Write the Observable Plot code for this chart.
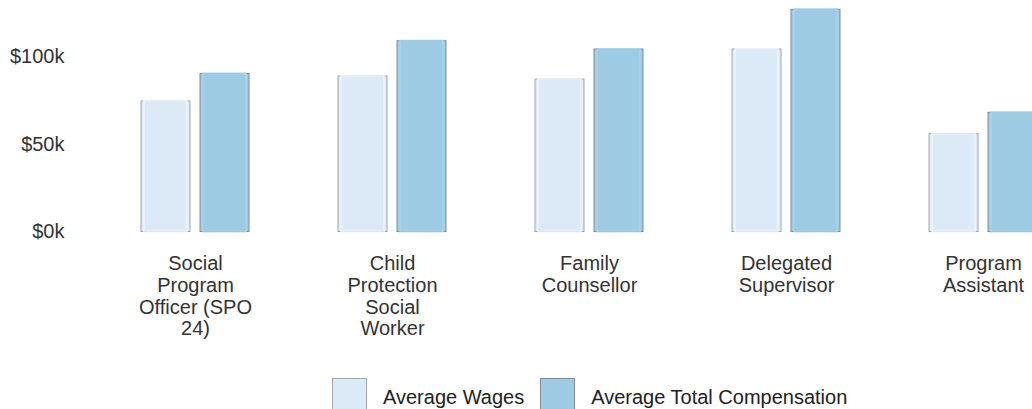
<!DOCTYPE html>
<html>
<head>
<meta charset="utf-8">
<script src="https://cdn.jsdelivr.net/npm/d3@7"></script>
<script src="https://cdn.jsdelivr.net/npm/@observablehq/plot@0.6"></script>
<style>
  html, body { margin: 0; padding: 0; background: #fff; overflow: hidden; }
  body { width: 1032px; height: 409px; font-family: "Liberation Sans", Arial, sans-serif; color: #333; }
  #legend { position: absolute; left: 332px; top: 378px; display: flex; align-items: center; font-size: 20px; color: #222; white-space: nowrap; }
  .sw { width: 35px; height: 36px; box-sizing: border-box; margin-right: 16px; }
  .lab { margin-right: 16px; padding-top: 2px; }
</style>
</head>
<body>
<div id="chart"></div>
<div id="legend"></div>
<script>
const categories = [
  "Social Program Officer (SPO 24)",
  "Child Protection Social Worker",
  "Family Counsellor",
  "Delegated Supervisor",
  "Program Assistant"
];
const categoryLabels = [
  "Social\nProgram\nOfficer (SPO\n24)",
  "Child\nProtection\nSocial\nWorker",
  "Family\nCounsellor",
  "Delegated\nSupervisor",
  "Program\nAssistant"
];
const seriesNames = ["Average Wages", "Average Total Compensation"];
const averageWages = [74600, 88900, 87100, 104300, 55900];
const averageTotalCompensation = [90300, 109000, 104300, 127000, 68100];
const yTicks = [0, 50000, 100000];

const wageColor = "#dceaf7";
const compColor = "#9ecbe4";
const wageStroke = "#a3a8ae";
const compStroke = "#838d93";

const wageRows = categories.map((c, i) => ({cat: c, value: averageWages[i]}));
const compRows = categories.map((c, i) => ({cat: c, value: averageTotalCompensation[i]}));
const labelRows = categories.map((c, i) => ({cat: c, label: categoryLabels[i]}));

const chart = Plot.plot({
  width: 1032,
  height: 370,
  style: {fontFamily: "'Liberation Sans', Arial, sans-serif", fontSize: "20px", color: "#333", background: "#fff"},
  x: {domain: categories, range: [96.5, 1081.5], paddingInner: 0.4518, paddingOuter: 0.2259, axis: null},
  y: {domain: [0, 130000], range: [231.5, 4], ticks: yTicks, tickSize: 0, tickPadding: 11,
      tickFormat: d => "$" + (d / 1000) + "k", label: null},
  marginLeft: 75,
  marks: [
    Plot.barY(wageRows, {x: "cat", y: "value", insetRight: 59, fill: wageColor, stroke: wageStroke, strokeWidth: 1}),
    Plot.barY(wageRows, {x: "cat", y: "value", insetRight: 62, insetLeft: 3, fill: "none", stroke: "#eef5fc", strokeWidth: 2, strokeOpacity: 0.8}),
    Plot.barY(compRows, {x: "cat", y: "value", insetLeft: 59, fill: compColor, stroke: compStroke, strokeWidth: 1}),
    Plot.barY(compRows, {x: "cat", y: "value", insetLeft: 62, insetRight: 3, fill: "none", stroke: "#a8d3ea", strokeWidth: 2, strokeOpacity: 0.8}),
    Plot.text(labelRows, {x: "cat", y: () => 0, text: "label", lineAnchor: "top", dy: 23, lineHeight: 1.08, fontSize: 20, fill: "#333"})
  ]
});
document.getElementById("chart").appendChild(chart);

const legend = document.getElementById("legend");
const legendColors = [[wageColor, wageStroke], [compColor, compStroke]];
seriesNames.forEach((name, i) => {
  const sw = document.createElement("div");
  sw.className = "sw";
  sw.style.background = legendColors[i][0];
  sw.style.border = "1px solid " + legendColors[i][1];
  const lab = document.createElement("span");
  lab.className = "lab";
  lab.textContent = name;
  legend.appendChild(sw);
  legend.appendChild(lab);
});
</script>
</body>
</html>
